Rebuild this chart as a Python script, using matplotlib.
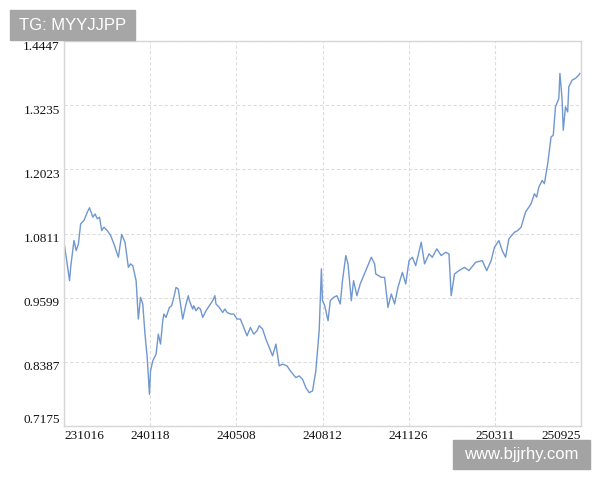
import matplotlib
matplotlib.use("Agg")
import matplotlib.pyplot as plt
from matplotlib.patches import Rectangle
from matplotlib.transforms import ScaledTranslation

# trading-day index and net value
days = [0, 2, 5, 6, 9, 11, 13, 15, 18, 21, 23, 26, 28, 30, 32, 34, 36, 39, 42, 45,
        49, 52, 55, 58, 60, 62, 65, 67, 69, 71, 73, 75, 77, 78, 80, 83, 85, 87, 89, 90,
        92, 95, 97, 99, 101, 103, 105, 107, 110, 112, 113, 116, 117, 119, 121, 123, 125, 128, 131, 134,
        136, 137, 140, 143, 145, 147, 150, 153, 156,
        159, 162, 165, 168, 171, 174, 176, 179, 182, 185, 188, 191, 194, 197, 201, 204, 209, 212, 215, 218,
        221, 224, 227, 230, 232, 233, 235, 238, 240, 243, 246, 249, 251, 254, 256, 259, 261, 264, 267, 272,
        277, 280, 281, 286, 289, 292, 295, 298, 301, 305, 308, 311, 314, 317, 322, 325, 329,
        332, 336, 340, 344, 347, 349, 352, 356, 361, 365, 371, 377, 381, 385, 388, 392, 395, 398, 401, 406,
        409, 412, 416, 421, 424, 426, 428, 431, 433, 436, 439, 441, 443, 446, 447, 449, 450, 452, 454, 455,
        458, 461, 464, 465]
nav = [1.0646, 1.0362, 0.9920, 1.0172, 1.0678, 1.0489, 1.0615, 1.0994, 1.1057, 1.1214,
       1.1297, 1.1119, 1.1180, 1.1089, 1.1119, 1.0867, 1.0930, 1.0867, 1.0773, 1.0615,
       1.0362, 1.0792, 1.0646, 1.0172, 1.0237, 1.0204, 0.9920, 0.9195, 0.9604, 0.9479,
       0.8911, 0.8468, 0.7774, 0.8216, 0.8405, 0.8532, 0.8911, 0.8722, 0.9163, 0.9290,
       0.9226, 0.9415, 0.9447, 0.9604, 0.9793, 0.9762, 0.9479, 0.9195, 0.9479, 0.9636,
       0.9542, 0.9384, 0.9447, 0.9352, 0.9415, 0.9384, 0.9226, 0.9352, 0.9447, 0.9542,
       0.9636, 0.9479, 0.9415, 0.9320, 0.9384, 0.9320, 0.9290, 0.9290, 0.9195,
       0.9195, 0.9036, 0.8879, 0.9036, 0.8911, 0.8973, 0.9068, 0.9005, 0.8816, 0.8657,
       0.8500, 0.8722, 0.8311, 0.8343, 0.8311, 0.8216, 0.8089, 0.8121, 0.8058, 0.7900,
       0.7805, 0.7837, 0.8216, 0.8973, 1.0142, 0.9542, 0.9447, 0.9163, 0.9542, 0.9604,
       0.9636, 0.9479, 0.9920, 1.0394, 1.0237, 0.9542, 0.9920, 0.9636, 0.9858, 1.0110,
       1.0362, 1.0237, 1.0047, 0.9983, 0.9983, 0.9415, 0.9668, 0.9479, 0.9793, 1.0077,
       0.9858, 1.0299, 1.0362, 1.0204, 1.0646, 1.0237, 1.0426,
       1.0362, 1.0521, 1.0394, 1.0456, 1.0426, 0.9636, 1.0047, 1.0110, 1.0172, 1.0110,
       1.0267, 1.0299, 1.0110, 1.0299, 1.0551, 1.0678, 1.0489, 1.0362, 1.0710, 1.0835,
       1.0867, 1.0930, 1.1214, 1.1373, 1.1562, 1.1498, 1.1687, 1.1814, 1.1752, 1.2131,
       1.2634, 1.2667, 1.3203, 1.3362, 1.3835, 1.3330, 1.2761, 1.3203, 1.3108, 1.3581,
       1.3708, 1.3741, 1.3803, 1.3835]

x_labels = ["231016", "240118", "240508", "240812", "241126", "250311", "250925"]
y_ticks = [0.7175, 0.8387, 0.9599, 1.0811, 1.2023, 1.3235, 1.4447]
last_day = 466

fig = plt.figure(figsize=(6, 4.8), dpi=100)
ax = fig.add_axes([64 / 600, 1 - 426 / 480, 517 / 600, 385 / 480])

ax.plot(days, nav, color="#7097d0", lw=1.0)

x_ticks = [last_day * i / 6 for i in range(7)]
ax.set_xlim(0, last_day)
ax.set_ylim(y_ticks[0], y_ticks[-1])
ax.set_xticks(x_ticks)
ax.set_yticks(y_ticks)
ax.set_yticklabels([f"{v:.4f}" for v in y_ticks])
ax.set_xticklabels(x_labels)
for i, lab in enumerate(ax.get_xticklabels()):
    if i == 0:
        lab.set_ha("left")
    elif i == len(x_labels) - 1:
        lab.set_ha("right")

ax.tick_params(length=0, labelsize=9.5, colors="#111111", pad=3)
for lab in ax.get_xticklabels() + ax.get_yticklabels():
    lab.set_family("Liberation Serif")

# y labels sit a little below their grid lines, end labels kept inside the box
ylabs = ax.get_yticklabels()
down = ScaledTranslation(0, -3 / 72, fig.dpi_scale_trans)
for i, lab in enumerate(ylabs):
    if i == 0:
        lab.set_va("bottom")
    elif i == len(ylabs) - 1:
        lab.set_va("top")
    else:
        lab.set_transform(lab.get_transform() + down)

ax.grid(True, color="#dddddd", linestyle=(0, (3, 2)), lw=0.8)
for s in ax.spines.values():
    s.set_color("#d6d6d6")
    s.set_linewidth(1.0)

# watermark boxes
fig.patches.append(Rectangle((10 / 600, 1 - 40 / 480), 125 / 600, 30 / 480,
                             transform=fig.transFigure, color="#a6a6a6", zorder=5))
fig.text(72.5 / 600, 1 - 25 / 480, "TG: MYYJJPP", color="white", fontsize=12,
         family="Liberation Sans", ha="center", va="center", zorder=6)
fig.patches.append(Rectangle((453 / 600, 1 - 469 / 480), 137 / 600, 29 / 480,
                             transform=fig.transFigure, color="#a3a3a3", zorder=5))
fig.text(521.5 / 600, 1 - 454.5 / 480, "www.bjjrhy.com", color="white", fontsize=12,
         family="Liberation Sans", ha="center", va="center", zorder=6)

fig.savefig("out.png", dpi=100)
